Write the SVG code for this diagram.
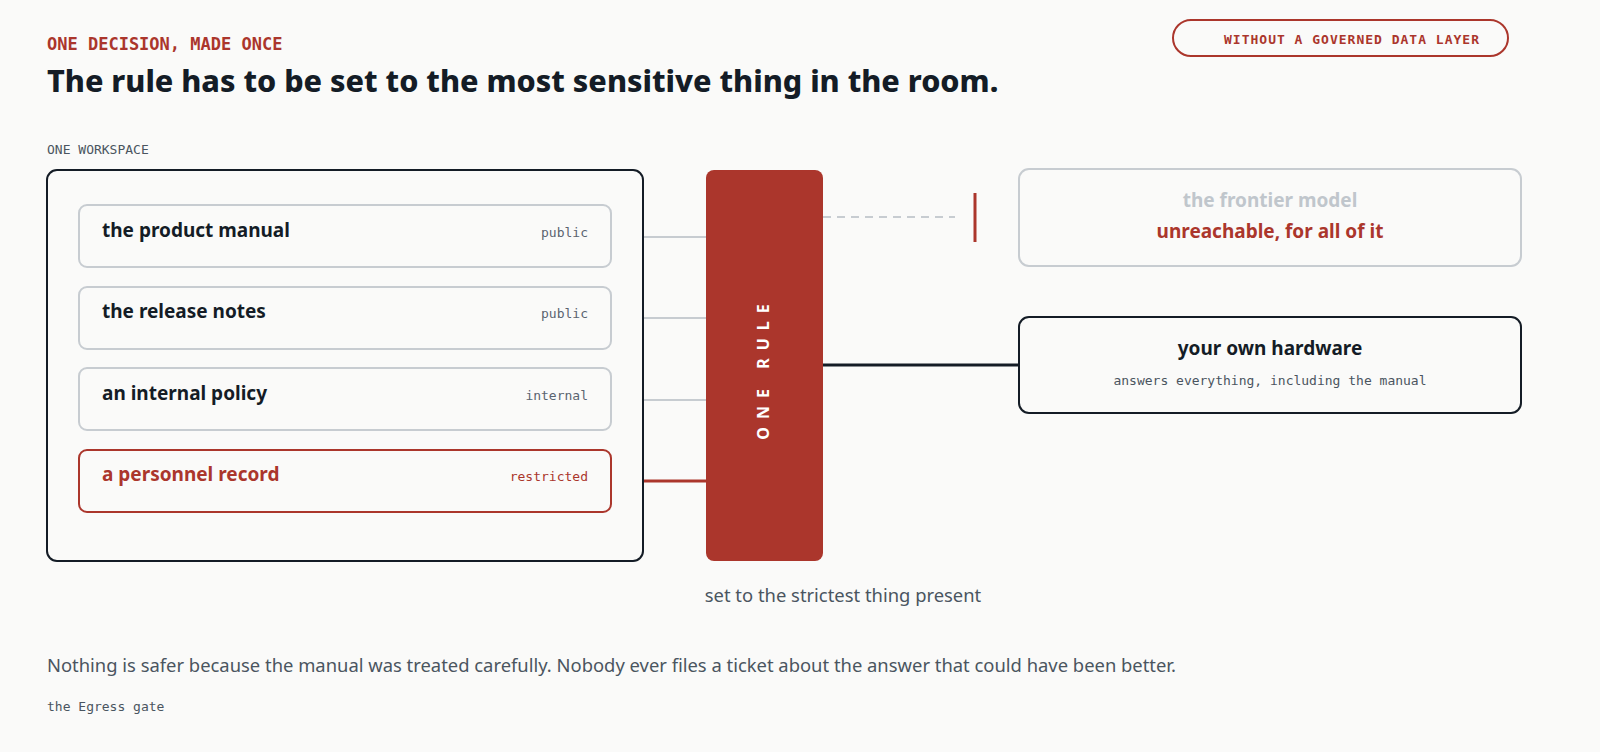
<svg xmlns="http://www.w3.org/2000/svg" width="1600" height="752" viewBox="0 0 1600 752">
<style>
.sans{font-family:"Noto Sans","Open Sans","Liberation Sans",sans-serif}
.mono{font-family:"DejaVu Sans Mono","Liberation Mono",monospace}
.item{fill:#fafaf9;stroke:#c7ccd1;stroke-width:2}
.ititle{font-size:19px;font-weight:700;fill:#141c26}
.tag{font-size:13px;fill:#5a6470;text-anchor:end}
.conn{stroke:#c7ccd1;stroke-width:2;fill:none}
</style>
<rect width="1600" height="752" fill="#fafaf9"/>
<text x="47" y="50" class="mono" font-size="17" font-weight="700" fill="#ab362c">ONE DECISION, MADE ONCE</text>
<text x="47" y="92" class="sans" font-size="30.5" font-weight="800" fill="#141c26">The rule has to be set to the most sensitive thing in the room.</text>
<g id="badge"><rect x="1173" y="20" width="335" height="36" rx="18" fill="none" stroke="#ab362c" stroke-width="2"/>
<text x="1352" y="44" class="mono" font-size="13" font-weight="700" fill="#ab362c" text-anchor="middle" letter-spacing="1">WITHOUT A GOVERNED DATA LAYER</text></g>
<text x="47" y="154" class="mono" font-size="13" fill="#4a5560">ONE WORKSPACE</text>
<g id="connectors">
<line class="conn" x1="643" y1="237" x2="706" y2="237"/>
<line class="conn" x1="643" y1="318" x2="706" y2="318"/>
<line class="conn" x1="643" y1="400" x2="706" y2="400"/>
<line x1="643" y1="481" x2="706" y2="481" stroke="#ab362c" stroke-width="3"/>
<line x1="823" y1="217" x2="955" y2="217" stroke="#c7ccd1" stroke-width="2" stroke-dasharray="8 6"/>
<line x1="975" y1="193" x2="975" y2="242" stroke="#ab362c" stroke-width="3"/>
<line x1="823" y1="365" x2="1019" y2="365" stroke="#141c26" stroke-width="3"/>
</g>
<g id="workspace"><rect x="47" y="170" width="596" height="391" rx="10" fill="none" stroke="#141c26" stroke-width="2"/></g>
<g id="item1"><rect class="item" x="79" y="205" width="532" height="62" rx="8"/><text class="sans ititle" x="102" y="237">the product manual</text><text class="mono tag" x="588" y="237">public</text></g>
<g id="item2"><rect class="item" x="79" y="287" width="532" height="62" rx="8"/><text class="sans ititle" x="102" y="318">the release notes</text><text class="mono tag" x="588" y="318">public</text></g>
<g id="item3"><rect class="item" x="79" y="368" width="532" height="62" rx="8"/><text class="sans ititle" x="102" y="400">an internal policy</text><text class="mono tag" x="588" y="400">internal</text></g>
<g id="item4"><rect x="79" y="450" width="532" height="62" rx="8" fill="#fafaf9" stroke="#ab362c" stroke-width="2"/><text class="sans ititle" x="102" y="481" style="fill:#ab362c">a personnel record</text><text class="mono tag" x="588" y="481" style="fill:#ab362c">restricted</text></g>
<g id="rule"><rect x="706" y="170" width="117" height="391" rx="8" fill="#ab362c"/>
<text transform="translate(769,368) rotate(-90)" class="sans" font-size="16" font-weight="700" fill="#fff" text-anchor="middle" letter-spacing="8">ONE RULE</text></g>
<text x="843" y="602" class="sans" font-size="18.4" fill="#4a5560" text-anchor="middle">set to the strictest thing present</text>
<g id="frontier"><rect x="1019" y="169" width="502" height="97" rx="10" fill="#fafaf9" stroke="#c7ccd1" stroke-width="2"/>
<text x="1270" y="207" class="sans" font-size="19" font-weight="700" fill="#c0c6cc" text-anchor="middle">the frontier model</text>
<text x="1270" y="238" class="sans" font-size="19" font-weight="700" fill="#ab362c" text-anchor="middle">unreachable, for all of it</text></g>
<g id="hardware"><rect x="1019" y="317" width="502" height="96" rx="10" fill="#fafaf9" stroke="#141c26" stroke-width="2"/>
<text x="1270" y="355" class="sans" font-size="19" font-weight="700" fill="#141c26" text-anchor="middle">your own hardware</text>
<text x="1270" y="385" class="mono" font-size="13" fill="#4a5560" text-anchor="middle">answers everything, including the manual</text></g>
<text x="47" y="672" class="sans" font-size="18.4" fill="#4a5560">Nothing is safer because the manual was treated carefully. Nobody ever files a ticket about the answer that could have been better.</text>
<text x="47" y="711" class="mono" font-size="13" fill="#4a5560">the Egress gate</text>
</svg>
